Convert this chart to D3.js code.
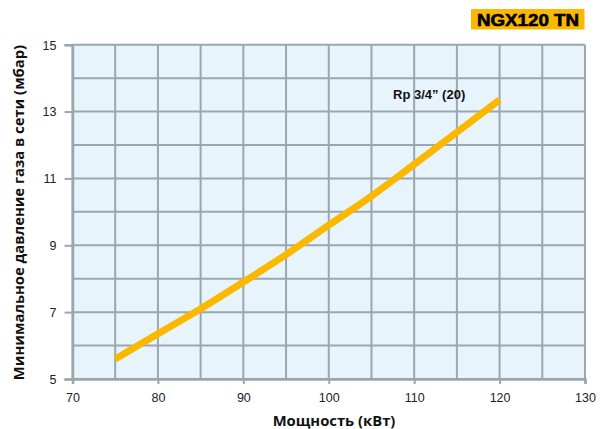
<!DOCTYPE html>
<html><head><meta charset="utf-8">
<script src="https://cdn.jsdelivr.net/npm/d3@7"></script>
<style>body{margin:0;background:#fff}</style>
</head><body>
<svg id="c" width="600" height="429"></svg>
<script>
const powerKW = [75, 80, 85, 90, 95, 100, 105, 110, 115, 120];
const pressureMbar = [5.6, 6.35, 7.1, 7.9, 8.72, 9.6, 10.47, 11.42, 12.38, 13.35];
const xTicks = [70, 80, 90, 100, 110, 120, 130];
const yTicks = [5, 7, 9, 11, 13, 15];
const seriesLabel = "Rp 3/4\u201D (20)";
const title = "NGX120 TN";
const xTitle = "Мощность (кВт)";
const yTitle = "Минимальное давление газа в сети (мбар)";

const svg = d3.select("#c");
const L = 72.5, R = 585, T = 44.7, B = 379;
const x = d3.scaleLinear().domain([70, 130]).range([L, R]);
const y = d3.scaleLinear().domain([5, 15]).range([B, T]);
const grid = "#9aa7af";

svg.append("rect").attr("x", L).attr("y", T).attr("width", R - L).attr("height", B - T).attr("fill", "#e8f4fc");

// grid
svg.append("g").selectAll("line").data(d3.range(70, 131, 5)).join("line")
  .attr("x1", d => x(d)).attr("x2", d => x(d)).attr("y1", T).attr("y2", B)
  .attr("stroke", grid).attr("stroke-width", 2);
svg.append("g").selectAll("line").data(d3.range(5, 15.1, 1)).join("line")
  .attr("y1", d => y(d)).attr("y2", d => y(d)).attr("x1", L).attr("x2", R)
  .attr("stroke", grid).attr("stroke-width", 2);

// axes
const xa = svg.append("g").attr("transform", `translate(0,${B})`)
  .call(d3.axisBottom(x).tickValues(xTicks).tickSize(5).tickPadding(9));
const ya = svg.append("g").attr("transform", `translate(${L},0)`)
  .call(d3.axisLeft(y).tickValues(yTicks).tickSize(8).tickPadding(8));
[xa, ya].forEach(a => {
  a.select(".domain").attr("stroke", grid).attr("stroke-width", 2.5);
  a.selectAll(".tick line").attr("stroke", grid).attr("stroke-width", 2);
  a.selectAll(".tick text").attr("fill", "#222").attr("font-family", "Liberation Sans, Arial, sans-serif").attr("font-size", 12.5);
});
ya.selectAll(".tick text").attr("dy", "0.35em");

// curve
svg.append("path").datum(powerKW.map((p, i) => [p, pressureMbar[i]]))
  .attr("d", d3.line().x(d => x(d[0])).y(d => y(d[1])).curve(d3.curveCatmullRom))
  .attr("fill", "none").attr("stroke", "#fbb800").attr("stroke-width", 7);

svg.append("text").attr("x", 393).attr("y", 98.5).text(seriesLabel)
  .attr("font-family", "Liberation Sans, Arial, sans-serif").attr("font-weight", "bold")
  .attr("font-size", 13).attr("fill", "#111");

// title badge
svg.append("rect").attr("x", 471).attr("y", 9).attr("width", 113.5).attr("height", 20.5).attr("fill", "#fbb800");
svg.append("text").attr("x", 477).attr("y", 26.3).text(title)
  .attr("font-family", "Liberation Sans, Arial, sans-serif").attr("font-weight", "bold")
  .attr("font-size", 16.5).attr("textLength", 102).attr("lengthAdjust", "spacingAndGlyphs")
  .attr("stroke", "#000").attr("stroke-width", 0.6).attr("fill", "#000");

// axis titles
svg.append("text").attr("x", 334).attr("y", 426).attr("text-anchor", "middle").text(xTitle)
  .attr("font-family", "Open Sans, sans-serif").attr("font-weight", "bold").attr("font-size", 14.8).attr("fill", "#111");
svg.append("text").attr("transform", "translate(24,212.5) rotate(-90)").attr("text-anchor", "middle").text(yTitle)
  .attr("font-family", "Open Sans, sans-serif").attr("font-weight", "bold").attr("font-size", 14.8).attr("fill", "#111");
</script>
</body></html>
